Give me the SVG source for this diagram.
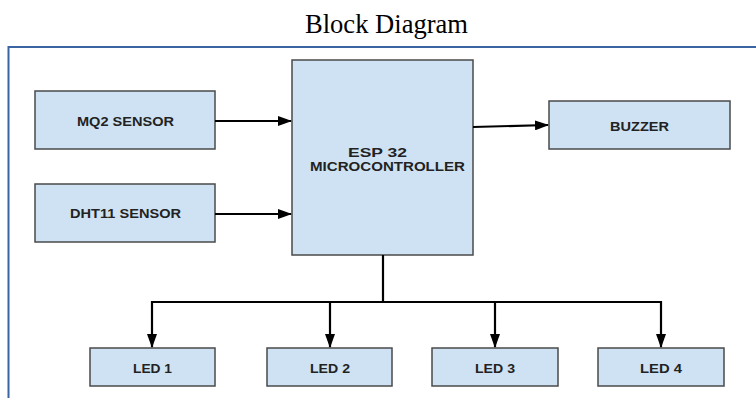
<svg xmlns="http://www.w3.org/2000/svg" width="756" height="398" viewBox="0 0 756 398">
<style>
.box{fill:#cfe2f3;stroke:#4a4a4a;stroke-width:1.5}
.lbl{font-family:"Liberation Sans",Arial,sans-serif;font-weight:bold;font-size:13.5px;fill:#222;text-anchor:middle}
.ln{stroke:#000;stroke-width:2.2;fill:none}
.frame{stroke:#3b64a3;stroke-width:2;fill:none}
</style>
<defs>
<marker id="ah" viewBox="0 0 14 10" refX="13" refY="5" markerWidth="14" markerHeight="10" orient="auto" markerUnits="userSpaceOnUse">
<path d="M0,0 L14,5 L0,10 z" fill="#000"/>
</marker>
</defs>
<rect width="756" height="398" fill="#fff"/>
<text x="386.5" y="33" font-family="Liberation Serif,'Times New Roman',serif" font-size="26.5" text-anchor="middle" fill="#000" textLength="163" lengthAdjust="spacingAndGlyphs">Block Diagram</text>
<path class="frame" d="M756,47 H8.5 V398"/>
<g id="mq2"><rect class="box" x="35" y="91" width="180" height="58"/><text class="lbl" x="125.5" y="126" textLength="97" lengthAdjust="spacingAndGlyphs">MQ2 SENSOR</text></g>
<g id="dht11"><rect class="box" x="35" y="184" width="180" height="58"/><text class="lbl" x="125.5" y="218" textLength="111" lengthAdjust="spacingAndGlyphs">DHT11 SENSOR</text></g>
<g id="esp32"><rect class="box" x="292" y="60" width="181" height="195"/><text class="lbl" x="377.5" y="157" textLength="59" lengthAdjust="spacingAndGlyphs">ESP 32</text><text class="lbl" x="387.5" y="170.5" textLength="155" lengthAdjust="spacingAndGlyphs">MICROCONTROLLER</text></g>
<g id="buzzer"><rect class="box" x="549" y="101" width="181" height="48"/><text class="lbl" x="639.5" y="130.5" textLength="59" lengthAdjust="spacingAndGlyphs">BUZZER</text></g>
<g id="led1"><rect class="box" x="90" y="348" width="125" height="38"/><text class="lbl" x="152.5" y="372.5" textLength="39" lengthAdjust="spacingAndGlyphs">LED 1</text></g>
<g id="led2"><rect class="box" x="267" y="348" width="125" height="38"/><text class="lbl" x="330" y="372.5" textLength="40" lengthAdjust="spacingAndGlyphs">LED 2</text></g>
<g id="led3"><rect class="box" x="432" y="348" width="126" height="38"/><text class="lbl" x="495" y="372.5" textLength="40" lengthAdjust="spacingAndGlyphs">LED 3</text></g>
<g id="led4"><rect class="box" x="598" y="348" width="126" height="38"/><text class="lbl" x="661" y="372.5" textLength="42" lengthAdjust="spacingAndGlyphs">LED 4</text></g>
<g id="connectors">
<path class="ln" d="M215,121 H291" marker-end="url(#ah)"/>
<path class="ln" d="M215,214 H291" marker-end="url(#ah)"/>
<path class="ln" d="M473,127 L548,125" marker-end="url(#ah)"/>
<path class="ln" d="M383,255 V302 M152,302 H661"/>
<path class="ln" d="M152,301 V347" marker-end="url(#ah)"/>
<path class="ln" d="M330,301 V347" marker-end="url(#ah)"/>
<path class="ln" d="M495,301 V347" marker-end="url(#ah)"/>
<path class="ln" d="M661,301 V347" marker-end="url(#ah)"/>
</g>
</svg>
